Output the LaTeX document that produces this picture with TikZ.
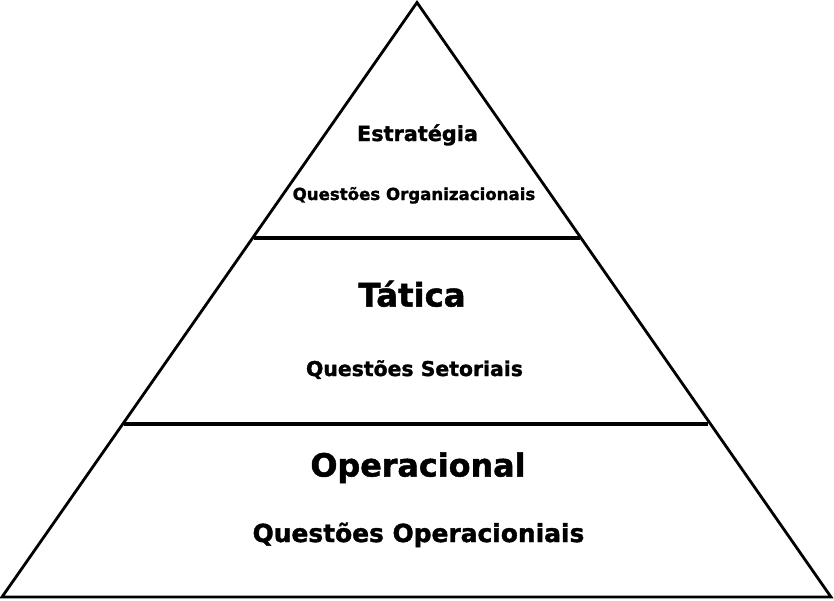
\documentclass[tikz,border=0pt]{standalone}
\usepackage{fontspec}
\setmainfont{DejaVu Sans}[BoldFeatures={FakeBold=1.5}]
\begin{document}
\begin{tikzpicture}[x=1pt,y=-1pt,
  edge/.style={line width=2.8pt,line join=miter},
  divider/.style={line width=4.5pt},
  label/.style={font=\bfseries,anchor=base,inner sep=0pt}]
\useasboundingbox (0,0) rectangle (834,600);
% pyramid outline
\coordinate (apex) at (417,2.5);
\coordinate (bl) at (2,597);
\coordinate (br) at (831,597);
\draw[edge] (bl) -- (apex) -- (br) -- cycle;
% level dividers
\coordinate (d1l) at (254,238);
\coordinate (d1r) at (580,238);
\coordinate (d2l) at (124,424);
\coordinate (d2r) at (708,424);
\draw[divider] (d1l) -- (d1r);
\draw[divider] (d2l) -- (d2r);
% labels
\node[label,font=\bfseries\fontsize{20.8}{24}\selectfont] (estr) at (417.5,141) {Estratégia};
\node[label,font=\bfseries\fontsize{16.6}{20}\selectfont] (qorg) at (414,200) {Questões Organizacionais};
\node[label,font=\bfseries\fontsize{32.3}{36}\selectfont] (tat) at (412,306.5) {Tática};
\node[label,font=\bfseries\fontsize{20.4}{24}\selectfont] (qset) at (414.5,376) {Questões Setoriais};
\node[label,font=\bfseries\fontsize{31.8}{36}\selectfont] (oper) at (418,476.5) {Operacional};
\node[label,font=\bfseries\fontsize{24.9}{28}\selectfont] (qop) at (418.5,542) {Questões Operacioniais};
\end{tikzpicture}
\end{document}
